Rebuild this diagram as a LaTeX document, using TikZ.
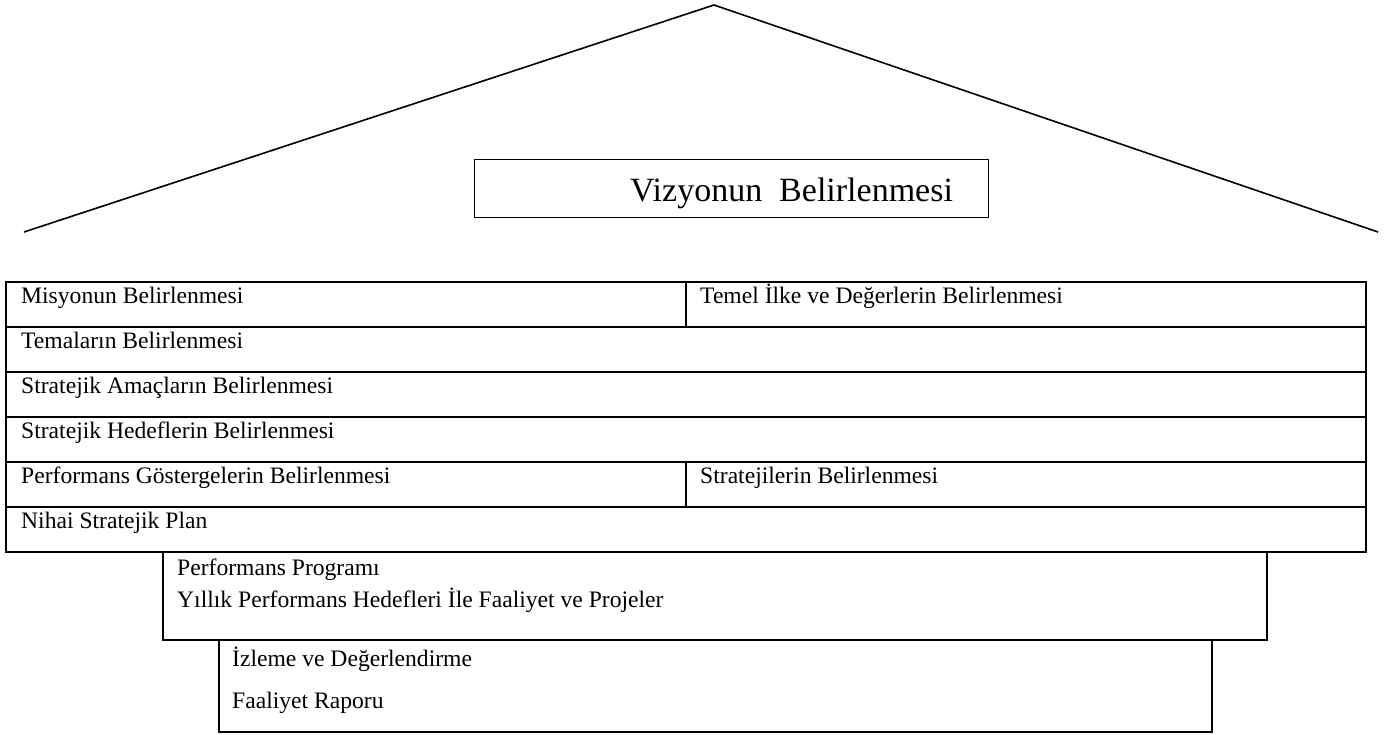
\documentclass[tikz,border=0pt]{standalone}
\usepackage{fontspec}
\setmainfont{Liberation Serif}
\usetikzlibrary{calc,positioning}

\begin{document}
\begin{tikzpicture}[x=1pt,y=-1pt,
  rowbox/.style={draw,line width=1.8pt,anchor=north west,inner sep=0pt,minimum height=45pt},
  rowtext/.style={anchor=base west,inner sep=0pt,font=\fontsize{23.6}{28}\selectfont}]
  \useasboundingbox (0,0) rectangle (1391,735);

  % roof
  \coordinate (roofL) at (24,232);
  \coordinate (apex) at (714,5);
  \coordinate (roofR) at (1378,232);
  \draw[line width=1.6pt] (roofL) -- (apex) -- (roofR);

  \node[draw,line width=1.3pt,anchor=north west,inner sep=0pt,minimum width=514pt,minimum height=58pt] (vizyon) at (474,159) {};
  \node[anchor=base west,inner sep=0pt,font=\fontsize{34}{40}\selectfont] (tvizyon) at (630,202) {Vizyonun\ \ Belirlenmesi};

  % rows
  \node[rowbox,minimum width=680pt] (misyon) at (5,281) {};
  \node[rowbox,minimum width=680pt] (temel) at (685,281) {};
  \node[rowbox,minimum width=1360pt] (tema) at (5,326) {};
  \node[rowbox,minimum width=1360pt] (amac) at (5,371) {};
  \node[rowbox,minimum width=1360pt] (hedef) at (5,416) {};
  \node[rowbox,minimum width=680pt] (gosterge) at (5,461) {};
  \node[rowbox,minimum width=680pt] (strateji) at (685,461) {};
  \node[rowbox,minimum width=1360pt] (nihai) at (5,506) {};

  \node[rowtext] (tmisyon) at ($(misyon.north west)+(16,22)$) {Misyonun Belirlenmesi};
  \node[rowtext] (ttemel) at ($(temel.north west)+(15,22)$) {Temel İlke ve Değerlerin Belirlenmesi};
  \node[rowtext] (ttema) at ($(tema.north west)+(16,22)$) {Temaların Belirlenmesi};
  \node[rowtext] (tamac) at ($(amac.north west)+(16,22)$) {Stratejik Amaçların Belirlenmesi};
  \node[rowtext] (thedef) at ($(hedef.north west)+(16,22)$) {Stratejik Hedeflerin Belirlenmesi};
  \node[rowtext] (tgosterge) at ($(gosterge.north west)+(16,22)$) {Performans Göstergelerin Belirlenmesi};
  \node[rowtext] (tstrateji) at ($(strateji.north west)+(15,22)$) {Stratejilerin Belirlenmesi};
  \node[rowtext] (tnihai) at ($(nihai.north west)+(16,22)$) {Nihai Stratejik Plan};

  % steps below
  \node[rowbox,minimum width=1104pt,minimum height=88pt] (program) at (162,551) {};
  \node[rowtext] (tprogram) at ($(program.north west)+(15,24)$) {Performans Programı};
  \node[rowtext] (tyillik) at ($(program.north west)+(15,56)$) {Yıllık Performans Hedefleri İle Faaliyet ve Projeler};

  \node[rowbox,minimum width=993pt,minimum height=92pt] (izleme) at (218,639) {};
  \node[rowtext] (tizleme) at ($(izleme.north west)+(14,27)$) {İzleme ve Değerlendirme};
  \node[rowtext] (trapor) at ($(izleme.north west)+(14,69)$) {Faaliyet Raporu};
\end{tikzpicture}
\end{document}
